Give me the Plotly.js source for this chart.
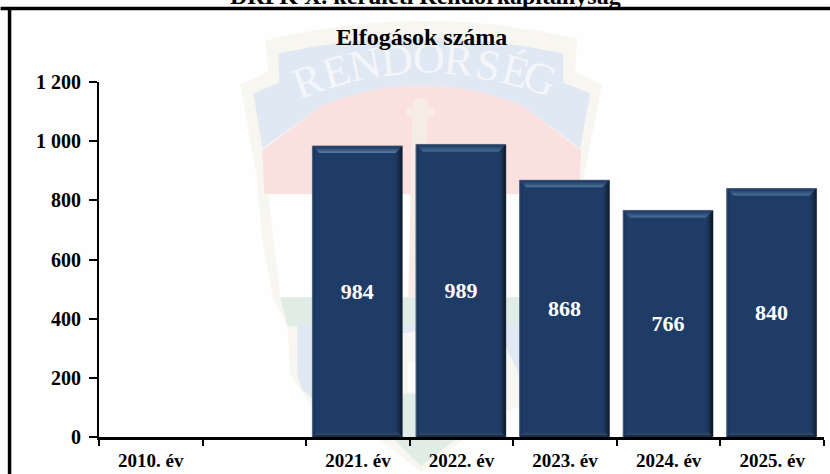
<!DOCTYPE html>
<html><head><meta charset="utf-8">
<script src="https://cdn.plot.ly/plotly-3.0.1.min.js"></script>
<style>html,body{margin:0;padding:0;background:#fefefe;overflow:hidden}#c{width:830px;height:474px}</style>
</head><body><div id="c"></div>
<script>
const categories = ["2010. év", " ", "2021. év", "2022. év", "2023. év", "2024. év", "2025. év"];
const arrests = [null, null, 984, 989, 868, 766, 840];
const yTicks = [0, 200, 400, 600, 800, 1000, 1200];
const chartTitle = "Elfogások száma";
const headerText = "DRFK X. kerületi Rendőrkapitányság";
const crestLetters = ["R","E","N","D","Ő","R","S","É","G"];

const W = 830, H = 474, L = 98.5, R = 824, T = 81.5, B = 437;
const pw = R - L, ph = B - T;
const px = x => (x - L) / pw, py = y => (B - y) / ph;
function tr(s) { // crest outline written in page pixels, converted to paper fractions
  const t = s.trim().split(/\s+/); let out = [], isX = true;
  for (const k of t) {
    if (/^[A-Z]$/.test(k)) { out.push(k); isX = true; }
    else { out.push((isX ? px(+k) : py(+k)).toFixed(5)); isX = !isX; }
  }
  return out.join(" ");
}
const shapes = [];
const crest = (d, c) => shapes.push({type:"path", xref:"paper", yref:"paper", path:tr(d), fillcolor:c, line:{width:0}, layer:"below"});
const CREAM="#f8f6f0", BLUE="#e0e8f3", RED="#fbe0e0", GREEN="#e0ede6", PALE="#fefefe";
crest("M 240 84 L 268 71 L 265 40 Q 420 2 577 38 L 575 71 L 602 84 L 584 175 L 578 230 L 568 300 L 555 347 L 555 383 L 530 403 L 495 415 L 421 472 L 347 415 L 310 404 L 290 375 L 287 325 L 273 300 L 262 240 L 256 175 Z", CREAM);
crest("M 253 93 L 279 82 L 278 53 Q 420 22 563 53 L 563 82 L 590 93 L 580 148 L 522 105 Q 420 65 322 105 L 262 148 Z", BLUE);
crest("M 262 150 L 322 105 Q 420 65 522 105 L 581 150 L 579 194 L 264 194 Z", RED);
crest("M 268 194 L 576 194 L 565 297 L 280 297 Z", PALE);
crest("M 280 297 L 565 297 L 556 326 L 287 326 Z", GREEN);
crest("M 297 325 L 545 325 L 545 383 L 530 398 L 505 345 L 420 330 L 335 345 L 312 398 L 302 390 L 297 375 Z", BLUE);
crest("M 385 394 L 457 394 L 457 438 L 421 466 L 392 438 Z", GREEN);
crest("M 408 362 L 419 362 L 419 392 L 408 392 Z", PALE);
crest("M 413 98 L 427 98 L 427 107 L 434 107 L 434 116 L 427 116 L 429 297 L 408 297 L 412 116 L 406 116 L 406 107 L 413 107 Z", "#f7ebe5");

// outer frame
shapes.push({type:"line", xref:"paper", yref:"paper", x0:px(0), x1:px(W), y0:py(8), y1:py(8), line:{color:"#000", width:3.5}, layer:"below"});
shapes.push({type:"line", xref:"paper", yref:"paper", x0:px(9), x1:px(9), y0:py(6.5), y1:py(H), line:{color:"#000", width:3.5}, layer:"below"});

// bevel on each bar, derived from the bar values
const barFrac = 0.868, half = barFrac / 2, nudge = -0.006, ux = (categories.length) / pw, uy = 1200 / ph;
const topC = ["#2a4468","#223f67","#2a4a74","#33567f","#3d6189","#4a6f97","#55799e"];
const rightC = ["#0a1522","#0e1c2e","#13243b","#182c49","#1b3252","#1d375b","#1e3a62"];
const leftC = ["#46596f","#1b3558","#1c3760"];
const botC = ["#16294a","#1a3052","#2b4566","#2a4464","#263f60"];
const BASE = "#1f3c66";
arrests.forEach((v, idx) => {
  if (v === null) return;
  const xl = idx - half + nudge, xr = idx + half + nudge;
  const add = (pts, c) => shapes.push({type:"path", xref:"x", yref:"y", layer:"above", fillcolor:c, line:{width:0},
    path:"M " + pts.map(p => p[0].toFixed(4) + " " + p[1].toFixed(2)).join(" L ") + " Z"});
  const strip = (side, i, c) => {
    const a = i, b = i + 1;
    const X = k => xl + k * ux, XR = k => xr - k * ux, Y = k => v - k * uy, YB = k => k * uy;
    if (side === "top") add([[X(a),Y(a)],[XR(a),Y(a)],[XR(b),Y(b)],[X(b),Y(b)]], c);
    if (side === "right") add([[XR(a),Y(a)],[XR(a),YB(a)],[XR(b),YB(b)],[XR(b),Y(b)]], c);
    if (side === "left") add([[X(a),Y(a)],[X(a),YB(a)],[X(b),YB(b)],[X(b),Y(b)]], c);
    if (side === "bot") add([[X(a),YB(a)],[XR(a),YB(a)],[XR(b),YB(b)],[X(b),YB(b)]], c);
  };
  rightC.forEach((c, i) => strip("right", i, c));
  leftC.forEach((c, i) => strip("left", i, c));
  botC.forEach((c, i) => strip("bot", i, c));
  topC.forEach((c, i) => strip("top", i, c));
});

const lx = [308,336,365,397,429,459,488,515,540];
const ly = [80,71,64,60,58,60,65,71,78];
const la = [-20,-16,-11,-5,0,5,11,15,20];
const annotations = crestLetters.map((t, i) => ({
  text:t, xref:"paper", yref:"paper", x:px(lx[i]), y:py(ly[i]), xanchor:"center", yanchor:"middle", textangle:la[i], showarrow:false,
  font:{family:"Liberation Serif", size:44, color:"#f4f6fa"}
}));
annotations.push({text:"<b>" + chartTitle + "</b>", xref:"paper", yref:"paper", x:px(421), y:py(36), xanchor:"center", yanchor:"middle", showarrow:false,
  font:{family:"Liberation Serif", size:24, color:"#000"}});
annotations.push({text:"<b>" + headerText + "</b>", xref:"paper", yref:"paper", x:px(425), y:py(9), xanchor:"center", yanchor:"bottom", showarrow:false, borderpad:0,
  font:{family:"Liberation Serif", size:24, color:"#000"}});

Plotly.newPlot("c", [{
  type:"bar", x:categories, y:arrests, width:barFrac, offset:-half+nudge,
  marker:{color:BASE, line:{color:"rgba(110,122,138,0.85)", width:1}},
  text:arrests.map(v => v === null ? "" : String(v)),
  textposition:"inside", insidetextanchor:"middle", textangle:0, constraintext:"none",
  textfont:{family:"Liberation Serif", size:22, color:"#fff", weight:"bold"},
  hoverinfo:"x+y", cliponaxis:false
}], {
  width:W, height:H, showlegend:false,
  paper_bgcolor:"#fefefe", plot_bgcolor:"rgba(0,0,0,0)",
  margin:{l:L, r:W-R, t:T, b:H-B, pad:0},
  separators:", ",
  font:{family:"Liberation Serif", color:"#000"},
  xaxis:{type:"category", categoryorder:"array", categoryarray:categories, tickson:"boundaries", ticks:"outside", ticklen:6, tickwidth:2, tickcolor:"#000",
    showline:true, linecolor:"#000", linewidth:2.5, showgrid:false, zeroline:false, tickangle:0, ticklabelstandoff:5, ticklabelshift:-1.5,
    tickfont:{family:"Liberation Serif", size:19, color:"#000", weight:"bold"}},
  yaxis:{range:[0,1200], tickvals:yTicks, tickformat:",d", ticks:"outside", ticklen:8, tickwidth:2, tickcolor:"#000",
    showline:true, linecolor:"#000", linewidth:2, showgrid:false, zeroline:false, ticklabelstandoff:4,
    tickfont:{family:"Liberation Serif", size:20, color:"#000", weight:"bold"}},
  shapes, annotations
}, {displayModeBar:false, staticPlot:true});
</script></body></html>
